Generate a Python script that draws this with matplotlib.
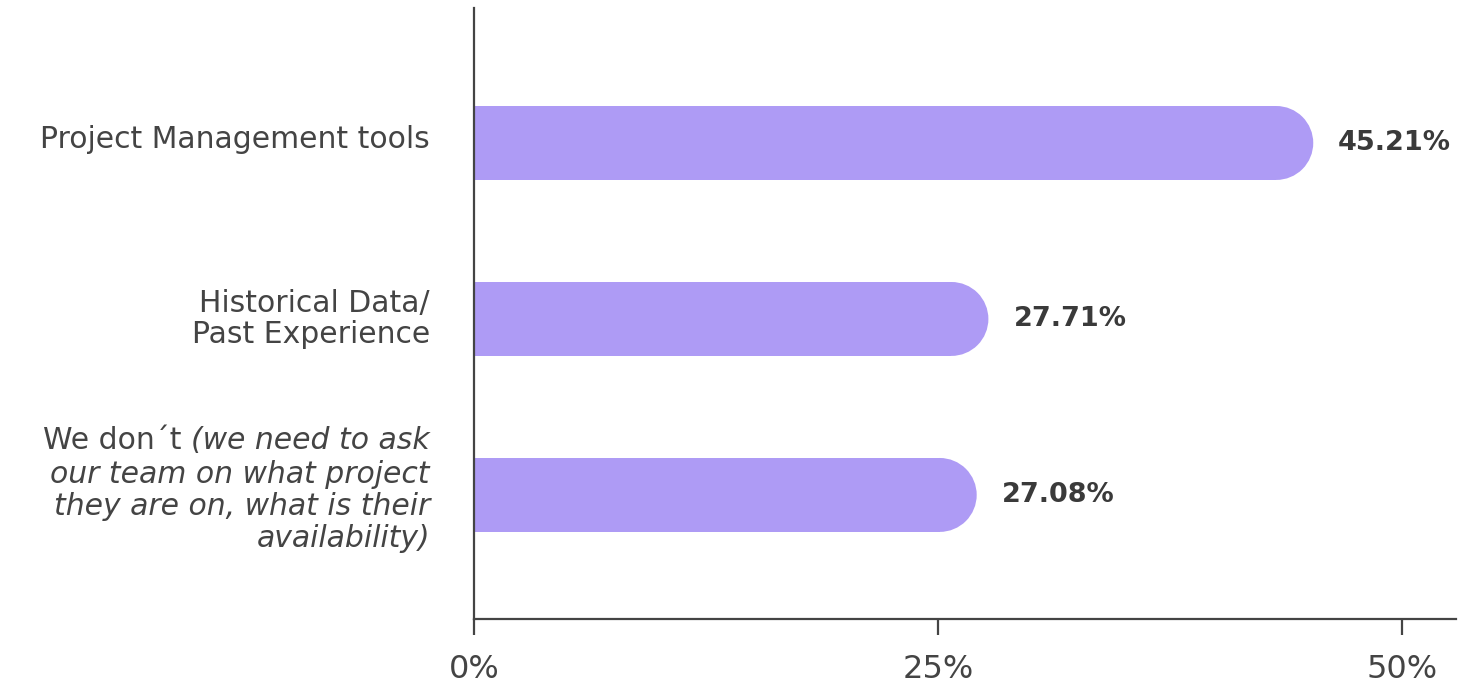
import matplotlib
matplotlib.use("Agg")
import matplotlib.pyplot as plt
from matplotlib.patches import Ellipse

categories = ["Project Management tools", "Historical Data/\nPast Experience", "We don´t"]
values = [45.21, 27.71, 27.08]
value_labels = ["45.21%", "27.71%", "27.08%"]
note_lines = ["(we need to ask", "our team on what project", "they are on, what is their", "availability)"]
xticks = [0, 25, 50]
xtick_labels = ["0%", "25%", "50%"]

BAR = "#ae9bf5"
INK = "#444444"

fig = plt.figure(figsize=(14.71, 6.83), dpi=100)
ax = fig.add_axes([474 / 1471, 64 / 683, 982 / 1471, 611 / 683])
ax.set_xlim(0, 52.9)
ax.set_ylim(2.705, -0.767)

# size of the rounded cap in data units (half of the bar height in pixels)
bar_h = 0.42
px_x = 982 / 52.9
px_y = 611 / (2.705 + 0.767)
r = bar_h / 2 * px_y / px_x

for i, v in enumerate(values):
    ax.barh(i, v - r, height=bar_h, color=BAR, linewidth=0, zorder=2)
    ax.add_patch(Ellipse((v - r, i), 2 * r, bar_h, color=BAR, linewidth=0, zorder=2))
    ax.annotate(value_labels[i], (v, i), xytext=(25, 0), textcoords="offset pixels",
                ha="left", va="center", fontsize=19.5, fontweight="bold",
                color="#3a3a3a", family="DejaVu Sans")

for s in ["top", "right"]:
    ax.spines[s].set_visible(False)
for s in ["left", "bottom"]:
    ax.spines[s].set_linewidth(1.6)
    ax.spines[s].set_color(INK)

ax.set_yticks([])
ax.set_xticks(xticks)
ax.set_xticklabels(xtick_labels, fontsize=23, color=INK, family="DejaVu Sans")
ax.tick_params(axis="x", length=11.5, width=1.6, color=INK, pad=14)

lab_kw = dict(xycoords=("axes fraction", "data"), textcoords="offset pixels",
              ha="right", va="center", fontsize=21.5, color=INK, family="DejaVu Sans")

ax.annotate(categories[0], (0, 0), xytext=(-44, 3), **lab_kw)
ax.annotate(categories[1], (0, 1), xytext=(-44, 0), linespacing=1.1, **lab_kw)

# last label: plain lead-in followed by an italic note, right aligned line by line
offsets = [54, 20, -12, -44]
first = None
for k, line in enumerate(note_lines):
    t = ax.annotate(line, (0, 2), xytext=(-44, offsets[k]), style="italic", **lab_kw)
    if k == 0:
        first = t

fig.canvas.draw()
bb = first.get_window_extent()
ax_left = ax.get_window_extent().x0
ax.annotate(categories[2] + " ", (0, 2), xytext=(bb.x0 - ax_left, offsets[0]), **lab_kw)

fig.savefig("out.png", dpi=100, facecolor="white")
